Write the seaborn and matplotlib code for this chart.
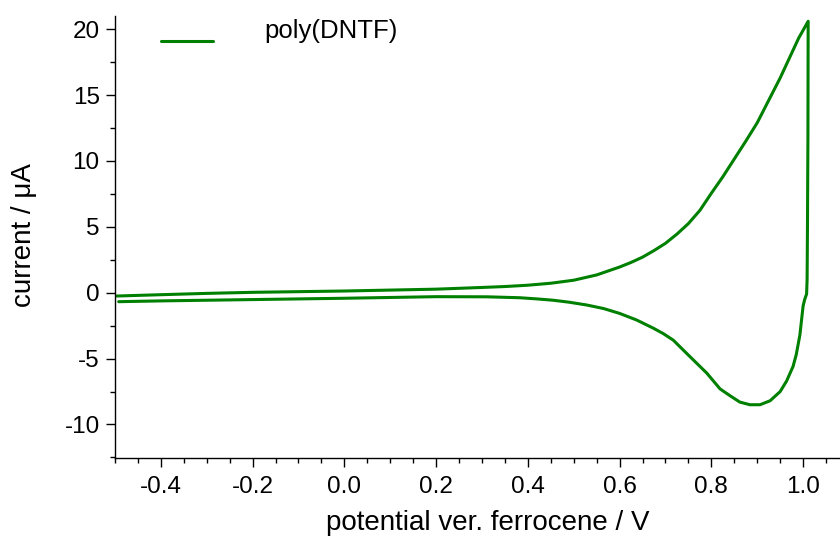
import matplotlib
matplotlib.use("Agg")
import matplotlib.pyplot as plt
import seaborn as sns
import pandas as pd
from matplotlib.ticker import MultipleLocator, FormatStrFormatter

# Forward (anodic) sweep, then reverse (cathodic) sweep
potential_fwd = [-0.496, -0.4, -0.3, -0.2, -0.1, 0.0, 0.1, 0.2, 0.3, 0.35, 0.4, 0.45,
                 0.5, 0.55, 0.6, 0.625, 0.65, 0.675, 0.7, 0.725, 0.75, 0.775, 0.8,
                 0.825, 0.85, 0.875, 0.9, 0.925, 0.95, 0.97, 0.99, 1.011]
current_fwd = [-0.25, -0.15, -0.05, 0.03, 0.08, 0.13, 0.2, 0.27, 0.4, 0.47, 0.57, 0.72,
               0.95, 1.35, 1.95, 2.3, 2.7, 3.2, 3.75, 4.45, 5.25, 6.25, 7.55,
               8.8, 10.15, 11.5, 12.9, 14.6, 16.3, 17.8, 19.3, 20.6]
potential_rev = [1.011, 1.0105, 1.0095, 1.0087, 1.0076, 1.0035, 1.0, 0.993, 0.985, 0.978,
                 0.964, 0.95, 0.928, 0.906, 0.884, 0.862, 0.84, 0.819, 0.79, 0.768,
                 0.746, 0.717, 0.695, 0.674, 0.637, 0.6, 0.565, 0.528, 0.49, 0.455,
                 0.42, 0.382, 0.31, 0.2, 0.1, 0.0, -0.1, -0.2, -0.3, -0.4, -0.492]
current_rev = [20.6, 12.0, 5.0, 1.0, -0.1, -0.5, -1.0, -3.2, -4.7, -5.6,
               -6.7, -7.5, -8.2, -8.5, -8.5, -8.3, -7.8, -7.3, -6.1, -5.35,
               -4.6, -3.6, -3.1, -2.7, -2.07, -1.57, -1.2, -0.93, -0.72, -0.57,
               -0.47, -0.38, -0.31, -0.3, -0.36, -0.42, -0.47, -0.52, -0.57, -0.62, -0.68]

series_name = "poly(DNTF)"

df = pd.DataFrame({
    "potential": potential_fwd + potential_rev,
    "current": current_fwd + current_rev,
    "series": series_name,
})

sns.set_style("ticks")
plt.rcParams['font.family'] = ['Liberation Sans', 'DejaVu Sans']
plt.rcParams['axes.unicode_minus'] = False
plt.rcParams['text.color'] = 'black'
plt.rcParams['axes.labelcolor'] = 'black'
plt.rcParams['xtick.color'] = 'black'
plt.rcParams['ytick.color'] = 'black'

fig = plt.figure(figsize=(8.4, 5.39), dpi=100)
ax = fig.add_axes([115/840, (539-457.7)/539, (860-115)/840, (457.7-16)/539])

sns.lineplot(data=df, x="potential", y="current", sort=False, estimator=None,
             color="#008000", linewidth=2.2, ax=ax, label=series_name, legend=False)

ax.set_xlim(-0.5, 1.124)
ax.set_ylim(-12.52, 21.0)
ax.xaxis.set_major_locator(MultipleLocator(0.2))
ax.xaxis.set_minor_locator(MultipleLocator(0.05))
ax.yaxis.set_major_locator(MultipleLocator(5))
ax.yaxis.set_minor_locator(MultipleLocator(2.5))
ax.xaxis.set_major_formatter(FormatStrFormatter('%.1f'))
ax.yaxis.set_major_formatter(FormatStrFormatter('%d'))

for s in ["top", "right"]:
    ax.spines[s].set_visible(False)
for s in ["left", "bottom"]:
    ax.spines[s].set_linewidth(1.0)
    ax.spines[s].set_color("black")

ax.tick_params(which="major", direction="out", length=6.5, width=1.0, labelsize=17.5,
               colors="black")
ax.tick_params(which="minor", direction="out", length=3.3, width=1.0, colors="black")
ax.tick_params(axis="x", which="major", pad=6.5)
ax.tick_params(axis="y", which="major", pad=4.5)

ax.set_xlabel("potential ver. ferrocene / V", fontsize=20, color="black")
ax.xaxis.set_label_coords((487.5 - 115) / 745, (457.7 - 509.5) / 441.7)
ax.set_ylabel("current / \u03bcA", fontsize=20, color="black")
ax.yaxis.set_label_coords((37 - 115) / 745, (457.7 - 235) / 441.7)

leg = ax.legend(loc="upper left", bbox_to_anchor=((161-115)/745, 1 - 15/441.7),
                frameon=False, fontsize=18.5, handlelength=2.02, handletextpad=2.0,
                borderpad=0, borderaxespad=0)
for t in leg.get_texts():
    t.set_position((0, 12))
    t.set_color("black")

fig.savefig("out.png", dpi=100)
